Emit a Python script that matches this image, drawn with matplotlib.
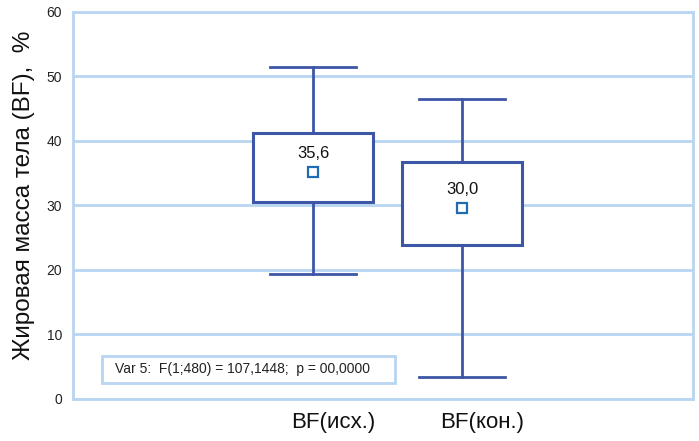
import numpy as np
import matplotlib.pyplot as plt
import matplotlib.transforms as mtransforms
from matplotlib.patches import Rectangle

plt.rcParams['font.family'] = ['Liberation Sans', 'DejaVu Sans']

categories = ['BF(исх.)', 'BF(кон.)']
whisker_low = [19.3, 3.3]
box_low = [30.4, 23.8]
box_high = [41.1, 36.6]
whisker_high = [51.35, 46.5]
means = [35.1, 29.5]
mean_labels = ['35,6', '30,0']
yticks = [0, 10, 20, 30, 40, 50, 60]
note = 'Var 5:  F(1;480) = 107,1448;  p = 00,0000'

line_c = '#3d56a6'
grid_c = '#b9d5f1'
marker_c = '#1f6cb4'

fig = plt.figure(figsize=(6.99, 4.41), dpi=100)
ax = fig.add_axes([73/699, 1 - 398.5/441, 620/699, 387/441])

pos = np.array([1, 2])
bw = 0.805
cw = 0.577

for i in range(len(pos)):
    x = pos[i]
    # whiskers + caps
    ax.plot([x, x], [whisker_low[i], box_low[i]], c=line_c, lw=2.0, zorder=3)
    ax.plot([x, x], [box_high[i], whisker_high[i]], c=line_c, lw=2.0, zorder=3)
    ax.plot([x - cw/2, x + cw/2], [whisker_low[i], whisker_low[i]], c=line_c, lw=2.0, zorder=3)
    ax.plot([x - cw/2, x + cw/2], [whisker_high[i], whisker_high[i]], c=line_c, lw=2.0, zorder=3)
    ax.add_patch(Rectangle((x - bw/2, box_low[i]), bw, box_high[i] - box_low[i],
                           facecolor='white', edgecolor=line_c, lw=2.2, zorder=3))
    ax.plot(x, means[i], marker='s', ms=7, mfc='white', mec=marker_c, mew=1.6, zorder=4)
    ax.annotate(mean_labels[i], (x, means[i]), xytext=(0, 8), textcoords='offset points',
                ha='center', va='bottom', fontsize=12, color='#111111', zorder=5)

ax.set_xlim(-0.611, 3.55)
ax.set_ylim(0, 60)
ax.set_yticks(yticks)
ax.set_yticklabels([str(t) for t in yticks], fontsize=10, color='#222222')
ax.yaxis.grid(True, color=grid_c, lw=2.0)
ax.set_axisbelow(True)
ax.tick_params(axis='y', length=0, pad=8)
ax.tick_params(axis='x', length=0, pad=10)
for s in ax.spines.values():
    s.set_color(grid_c)
    s.set_linewidth(2.0)

ax.set_xticks(pos)
ax.set_xticklabels(categories, fontsize=16, color='#111111')
shift = mtransforms.ScaledTranslation(20/100, 0, fig.dpi_scale_trans)
for lab in ax.get_xticklabels():
    lab.set_transform(lab.get_transform() + shift)

ax.set_ylabel('Жировая масса тела (BF),  %', fontsize=17.5, color='#111111')
ax.yaxis.set_label_coords(-0.061, 0.526)

# statistics note
ax.add_patch(Rectangle((0.0468, 0.04), 0.4726, 0.0698, transform=ax.transAxes,
                       facecolor='white', edgecolor=grid_c, lw=2.0, zorder=5))
ax.text(0.0677, 0.075, note, transform=ax.transAxes, fontsize=10, color='#222222',
        va='center', ha='left', zorder=6)

fig.savefig('out.png', dpi=100)
